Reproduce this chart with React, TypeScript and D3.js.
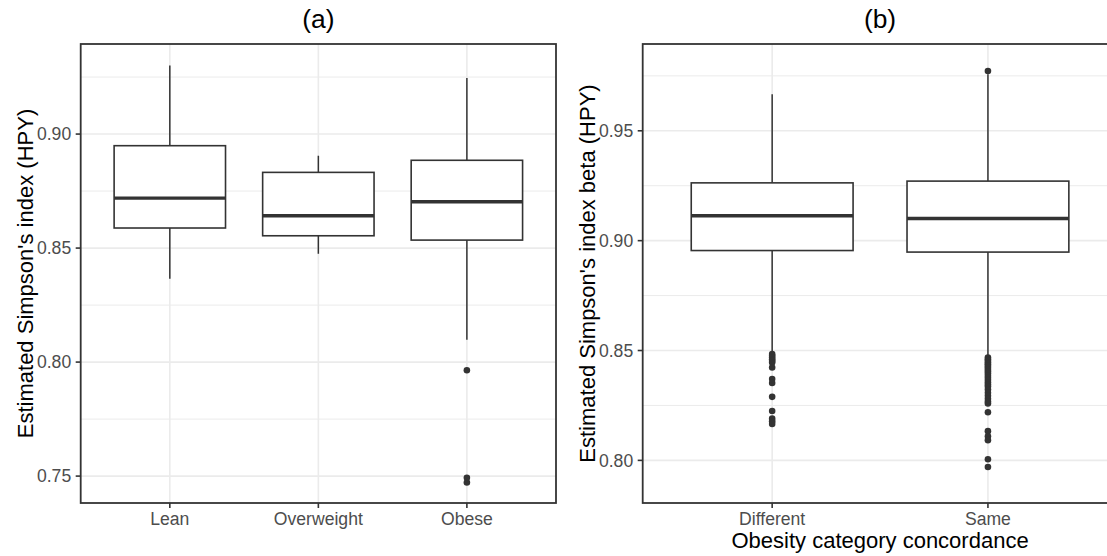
import React, { useEffect, useRef } from "react";
import * as d3 from "d3";

// panel (a): BMI category
const groupsA = ["Lean", "Overweight", "Obese"];
const lowerA = [0.8366, 0.8475, 0.8098];
const q1A = [0.8588, 0.8554, 0.8535];
const medianA = [0.8719, 0.8642, 0.8703];
const q3A = [0.8949, 0.8832, 0.8885];
const upperA = [0.9301, 0.8905, 0.9246];
const outliersA = [[], [], [0.7964, 0.7493, 0.7472]];
const ticksA = [0.75, 0.8, 0.85, 0.9];
const minorA = [0.775, 0.825, 0.875, 0.925];

// panel (b): concordance
const groupsB = ["Different", "Same"];
const lowerB = [0.8488, 0.8476];
const q1B = [0.8955, 0.8948];
const medianB = [0.9113, 0.9101];
const q3B = [0.9263, 0.9271];
const upperB = [0.9666, 0.9757];
const outliersB = [
  [0.8484, 0.8476, 0.8468, 0.846, 0.8452, 0.8446, 0.8423, 0.837, 0.8352, 0.8289, 0.8225, 0.819, 0.8178, 0.8166],
  [
    0.9772, 0.8468, 0.846, 0.8453, 0.8445, 0.8438, 0.843, 0.8422, 0.8413, 0.8404, 0.8395, 0.8385, 0.8376,
    0.8366, 0.8355, 0.8345, 0.8336, 0.8322, 0.8308, 0.8294, 0.828, 0.8268, 0.8259, 0.8219, 0.8133, 0.811,
    0.8092, 0.8005, 0.797,
  ],
];
const ticksB = [0.8, 0.85, 0.9, 0.95];
const minorB = [0.825, 0.875, 0.925, 0.975];

const FONT = "'Liberation Sans', Arial, Helvetica, sans-serif";
const TOP = 44;
const BOTTOM = 503;

function drawPanel(svg, p) {
  const x = d3.scalePoint().domain(p.groups).range([p.left, p.right]).padding(0.6);
  const y = d3.scaleLinear().domain(p.domain).range([BOTTOM, TOP]);
  const bw = x.step() * 0.75;
  const g = svg.append("g");

  // grid
  g.selectAll(".minor")
    .data(p.minor)
    .join("line")
    .attr("x1", p.left)
    .attr("x2", p.right)
    .attr("y1", (d) => y(d))
    .attr("y2", (d) => y(d))
    .attr("stroke", "#EBEBEB")
    .attr("stroke-width", 1);
  g.selectAll(".major")
    .data(p.ticks)
    .join("line")
    .attr("x1", p.left)
    .attr("x2", p.right)
    .attr("y1", (d) => y(d))
    .attr("y2", (d) => y(d))
    .attr("stroke", "#EBEBEB")
    .attr("stroke-width", 1.6);
  g.selectAll(".vgrid")
    .data(p.groups)
    .join("line")
    .attr("x1", (d) => x(d))
    .attr("x2", (d) => x(d))
    .attr("y1", TOP)
    .attr("y2", BOTTOM)
    .attr("stroke", "#EBEBEB")
    .attr("stroke-width", 1.6);

  const rows = p.groups.map((name, i) => ({
    name,
    lo: p.lower[i],
    q1: p.q1[i],
    med: p.median[i],
    q3: p.q3[i],
    hi: p.upper[i],
    out: p.outliers[i],
  }));

  const box = g.selectAll(".box").data(rows).join("g");
  box.append("line")
    .attr("x1", (d) => x(d.name))
    .attr("x2", (d) => x(d.name))
    .attr("y1", (d) => y(d.hi))
    .attr("y2", (d) => y(d.q3))
    .attr("stroke", "#333333")
    .attr("stroke-width", 1.5);
  box.append("line")
    .attr("x1", (d) => x(d.name))
    .attr("x2", (d) => x(d.name))
    .attr("y1", (d) => y(d.q1))
    .attr("y2", (d) => y(d.lo))
    .attr("stroke", "#333333")
    .attr("stroke-width", 1.5);
  box.append("rect")
    .attr("x", (d) => x(d.name) - bw / 2)
    .attr("y", (d) => y(d.q3))
    .attr("width", bw)
    .attr("height", (d) => y(d.q1) - y(d.q3))
    .attr("fill", "white")
    .attr("stroke", "#333333")
    .attr("stroke-width", 1.6);
  box.append("line")
    .attr("x1", (d) => x(d.name) - bw / 2)
    .attr("x2", (d) => x(d.name) + bw / 2)
    .attr("y1", (d) => y(d.med))
    .attr("y2", (d) => y(d.med))
    .attr("stroke", "#333333")
    .attr("stroke-width", 3.4);
  box.selectAll("circle")
    .data((d) => d.out.map((v) => ({ name: d.name, v })))
    .join("circle")
    .attr("cx", (d) => x(d.name))
    .attr("cy", (d) => y(d.v))
    .attr("r", 3.3)
    .attr("fill", "#333333");

  // panel border
  g.append("rect")
    .attr("x", p.left)
    .attr("y", TOP)
    .attr("width", p.right - p.left)
    .attr("height", BOTTOM - TOP)
    .attr("fill", "none")
    .attr("stroke", "#333333")
    .attr("stroke-width", 1.8);

  // y axis
  const yt = g.selectAll(".yt").data(p.ticks).join("g");
  yt.append("line")
    .attr("x1", p.left - 5)
    .attr("x2", p.left)
    .attr("y1", (d) => y(d))
    .attr("y2", (d) => y(d))
    .attr("stroke", "#333333")
    .attr("stroke-width", 1.6);
  yt.append("text")
    .attr("x", p.left - 9.5)
    .attr("y", (d) => y(d))
    .attr("dy", "0.36em")
    .attr("text-anchor", "end")
    .attr("font-size", 17.6)
    .attr("fill", "#4D4D4D")
    .text((d) => d3.format(".2f")(d));

  // x axis
  const xt = g.selectAll(".xt").data(p.groups).join("g");
  xt.append("line")
    .attr("x1", (d) => x(d))
    .attr("x2", (d) => x(d))
    .attr("y1", BOTTOM)
    .attr("y2", BOTTOM + 5)
    .attr("stroke", "#333333")
    .attr("stroke-width", 1.6);
  xt.append("text")
    .attr("x", (d) => x(d))
    .attr("y", 525)
    .attr("text-anchor", "middle")
    .attr("font-size", 17.6)
    .attr("fill", "#4D4D4D")
    .text((d) => d);

  const cx = (p.left + p.right) / 2;
  g.append("text")
    .attr("x", cx)
    .attr("y", 28)
    .attr("text-anchor", "middle")
    .attr("font-size", 26.4)
    .attr("fill", "black")
    .text(p.title);

  g.append("text")
    .attr("transform", `translate(${p.left - 47.5},${(TOP + BOTTOM) / 2}) rotate(-90)`)
    .attr("text-anchor", "middle")
    .attr("font-size", 22)
    .attr("fill", "black")
    .text(p.ylab);

  if (p.xlab) {
    g.append("text")
      .attr("x", cx)
      .attr("y", 548)
      .attr("text-anchor", "middle")
      .attr("font-size", 22)
      .attr("fill", "black")
      .text(p.xlab);
  }
}

export default function App() {
  const svgRef = useRef(null);

  useEffect(() => {
    const svg = d3.select(svgRef.current);
    svg.selectAll("*").remove();
    svg.append("rect").attr("width", 1107).attr("height", 556).attr("fill", "white");

    drawPanel(svg, {
      title: "(a)",
      ylab: "Estimated Simpson's index (HPY)",
      xlab: null,
      groups: groupsA,
      lower: lowerA,
      q1: q1A,
      median: medianA,
      q3: q3A,
      upper: upperA,
      outliers: outliersA,
      ticks: ticksA,
      minor: minorA,
      domain: [0.7382, 0.9395],
      left: 80.7,
      right: 556,
    });

    drawPanel(svg, {
      title: "(b)",
      ylab: "Estimated Simpson's index beta (HPY)",
      xlab: "Obesity category concordance",
      groups: groupsB,
      lower: lowerB,
      q1: q1B,
      median: medianB,
      q3: q3B,
      upper: upperB,
      outliers: outliersB,
      ticks: ticksB,
      minor: minorB,
      domain: [0.7806, 0.9895],
      left: 642.7,
      right: 1117.4,
    });
  }, []);

  return (
    <svg
      ref={svgRef}
      width={1107}
      height={556}
      style={{ position: "absolute", left: 0, top: 0, fontFamily: FONT }}
    />
  );
}
